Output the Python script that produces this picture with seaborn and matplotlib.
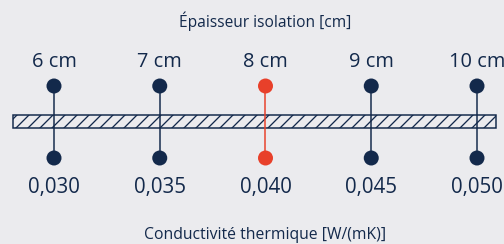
import matplotlib
matplotlib.use("Agg")
import matplotlib.pyplot as plt
import seaborn as sns
import pandas as pd
from matplotlib.patches import Rectangle

# data
epaisseur_cm = [6, 7, 8, 9, 10]
conductivite = ["0,030", "0,035", "0,040", "0,045", "0,050"]
selection = [False, False, True, False, False]

title_top = "Épaisseur isolation [cm]"
title_bottom = "Conductivité thermique [W/(mK)]"

NAVY = "#13294b"
RED = "#e8402a"
BG = "#ebebee"

df = pd.DataFrame({
    "epaisseur": epaisseur_cm,
    "lambda": conductivite,
    "choix": ["sel" if s else "autre" for s in selection],
})

sns.set_theme(style="white")
plt.rcParams["font.family"] = ["Open Sans", "DejaVu Sans"]
plt.rcParams["hatch.linewidth"] = 1.3

fig = plt.figure(figsize=(504 / 72, 244 / 72), dpi=72, facecolor=BG)
ax = fig.add_axes([0, 0, 1, 1])
ax.set_facecolor(BG)

# x in cm, y in pixel rows (top = 0)
px = 105.75
x0 = 6 - 54 / px
ax.set_xlim(x0, x0 + 504 / px)
ax.set_ylim(244, 0)
ax.axis("off")

y_top, y_bot = 86, 158
bar_top, bar_bot = 114.5, 127.5

# insulation slab
ax.add_patch(Rectangle((x0 + 13 / px, bar_top), 483 / px, bar_bot - bar_top,
                       facecolor=BG, edgecolor=NAVY, hatch="//", linewidth=1.5, zorder=1))

palette = {"autre": NAVY, "sel": RED}
for _, r in df.iterrows():
    c = palette[r["choix"]]
    ax.vlines(r["epaisseur"], y_top, y_bot, color=c, linewidth=1.5, zorder=2)
    ax.text(r["epaisseur"], 62, f"{r['epaisseur']} cm", ha="center", va="center",
            fontsize=20, color=NAVY)
    ax.text(r["epaisseur"], 187, r["lambda"], ha="center", va="center",
            fontsize=20.5, color=NAVY)

long_df = pd.concat([df.assign(y=y_top), df.assign(y=y_bot)])
sns.scatterplot(data=long_df, x="epaisseur", y="y", hue="choix", palette=palette,
                s=15 ** 2, linewidth=0, legend=False, zorder=3, ax=ax)
ax.set_xlim(x0, x0 + 504 / px)
ax.set_ylim(244, 0)

ax.text(8, 21, title_top, ha="center", va="center", fontsize=15.5, color=NAVY)
ax.text(8, 235, title_bottom, ha="center", va="center", fontsize=15.8, color=NAVY)

fig.savefig("out.png", dpi=72, facecolor=BG)
